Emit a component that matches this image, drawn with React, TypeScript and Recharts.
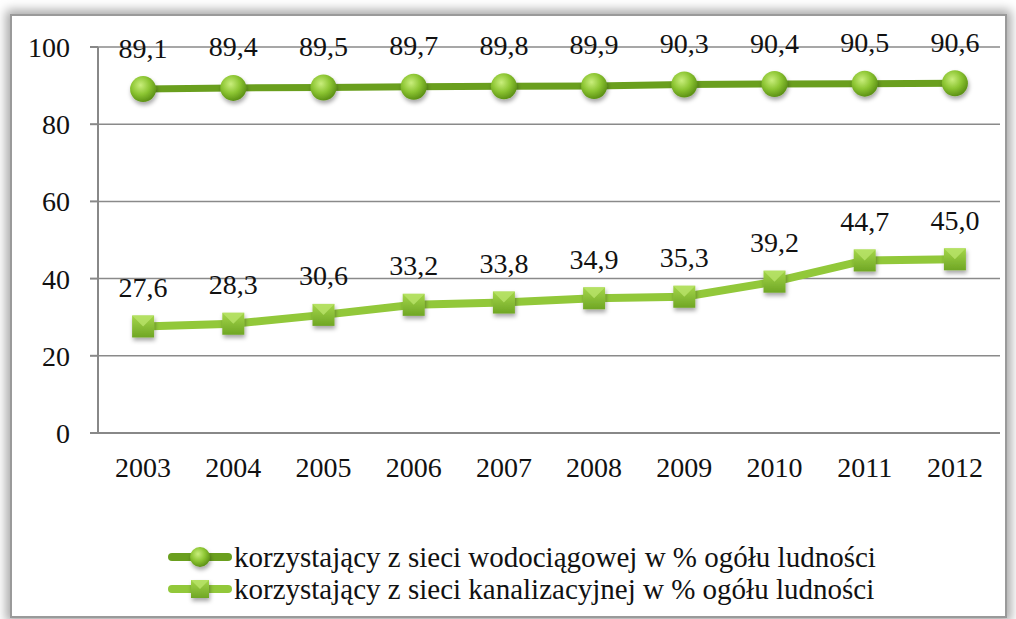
import React from "react";
import {
  LineChart,
  Line,
  XAxis,
  YAxis,
  CartesianGrid,
  Legend,
} from "recharts";

const years = ["2003", "2004", "2005", "2006", "2007", "2008", "2009", "2010", "2011", "2012"];
const water = [89.1, 89.4, 89.5, 89.7, 89.8, 89.9, 90.3, 90.4, 90.5, 90.6];
const sewer = [27.6, 28.3, 30.6, 33.2, 33.8, 34.9, 35.3, 39.2, 44.7, 45.0];
const yTicks = [0, 20, 40, 60, 80, 100];
const seriesNames = [
  "korzystający z sieci wodociągowej w % ogółu ludności",
  "korzystający z sieci kanalizacyjnej w % ogółu ludności",
];

const data = years.map((y, i) => ({ idx: i, year: y, water: water[i], sewer: sewer[i] }));
const centerTicks = years.map((_, i) => i);
const edgeTicks = [...years.map((_, i) => i - 0.5), years.length - 0.5];

const FONT = "'Liberation Serif', 'DejaVu Serif', serif";
const DARK = "#6a9f1e";
const LIGHT = "#92c83a";
const tickStyle = { fontFamily: FONT, fontSize: 28, fill: "#111" };

const fmt = (v: number) => v.toFixed(1).replace(".", ",");

function Sphere({ cx, cy, r = 13 }: { cx: number; cy: number; r?: number }) {
  return <circle cx={cx} cy={cy} r={r} fill="url(#sphere)" filter="url(#shadow)" />;
}

function Box({ cx, cy, s = 22 }: { cx: number; cy: number; s?: number }) {
  const h = s / 2;
  return (
    <g filter="url(#shadow)">
      <rect x={cx - h} y={cy - h} width={s} height={s} fill="url(#box)" />
      <polygon
        points={`${cx - h},${cy - h} ${cx},${cy} ${cx + h},${cy - h}`}
        fill="#b9e36a"
        opacity={0.8}
      />
    </g>
  );
}

const makeLabel = (lift: number) => (p: any) => {
  if (p.x == null || p.y == null) return null;
  return (
    <text
      key={`l-${p.index}`}
      x={p.x}
      y={p.y - lift}
      textAnchor="middle"
      dominantBaseline="central"
      style={{ fontFamily: FONT, fontSize: 28, fill: "#111" }}
    >
      {fmt(Number(p.value))}
    </text>
  );
};

function LegendBox() {
  const rows = [
    { name: seriesNames[0], color: DARK, kind: "sphere" },
    { name: seriesNames[1], color: LIGHT, kind: "box" },
  ];
  return (
    <div style={{ paddingLeft: 168 }}>
      {rows.map((r) => (
        <div key={r.name} style={{ display: "flex", alignItems: "center", height: 32 }}>
          <svg width={64} height={30} style={{ overflow: "visible" }}>
            <line x1={4} y1={15} x2={60} y2={15} stroke={r.color} strokeWidth={8} strokeLinecap="round" />
            {r.kind === "sphere" ? <Sphere cx={32} cy={15} r={10} /> : <Box cx={32} cy={15} s={18} />}
          </svg>
          <span style={{ fontFamily: FONT, fontSize: 29, color: "#111", marginLeft: 2, whiteSpace: "nowrap" }}>
            {r.name}
          </span>
        </div>
      ))}
    </div>
  );
}

export default function App() {
  return (
    <div style={{ position: "relative", width: 1016, height: 619, background: "#fff", overflow: "hidden" }}>
      <style>{`body{margin:0}`}</style>
      <div
        style={{
          position: "absolute",
          left: 10,
          top: 14,
          width: 993,
          height: 600,
          border: "2px solid #9a9a9a",
          boxShadow: "0 0 10px 4px rgba(0,0,0,0.35)",
          background: "#fff",
        }}
      />
      <div style={{ position: "absolute", left: 0, top: 0 }}>
        <LineChart width={1016} height={619} data={data} margin={{ top: 47, right: 16, bottom: 72, left: 0 }}>
          <defs>
            <radialGradient id="sphere" cx="40%" cy="35%" r="65%">
              <stop offset="0%" stopColor="#c9ee7c" />
              <stop offset="55%" stopColor="#8cc532" />
              <stop offset="100%" stopColor="#5d9216" />
            </radialGradient>
            <linearGradient id="box" x1="0" y1="0" x2="0" y2="1">
              <stop offset="0%" stopColor="#a4d64a" />
              <stop offset="100%" stopColor="#6fa624" />
            </linearGradient>
            <filter id="shadow" x="-50%" y="-50%" width="200%" height="200%">
              <feDropShadow dx="1" dy="3" stdDeviation="2" floodColor="#000" floodOpacity="0.35" />
            </filter>
          </defs>
          <CartesianGrid vertical={false} stroke="#8a8a8a" strokeWidth={1.5} />
          <XAxis
            dataKey="idx"
            type="number"
            domain={[-0.5, years.length - 0.5]}
            ticks={centerTicks}
            tickFormatter={(v) => years[v] ?? ""}
            tickLine={false}
            axisLine={{ stroke: "#888", strokeWidth: 2 }}
            tick={tickStyle}
            tickMargin={18}
            height={50}
            interval={0}
          />
          <XAxis
            xAxisId="edges"
            dataKey="idx"
            type="number"
            domain={[-0.5, years.length - 0.5]}
            ticks={edgeTicks}
            tick={false}
            axisLine={false}
            tickLine={{ stroke: "#888", strokeWidth: 2 }}
            tickSize={7}
            height={0}
            interval={0}
          />
          <YAxis
            domain={[0, 100]}
            ticks={yTicks}
            width={98}
            axisLine={{ stroke: "#888", strokeWidth: 2 }}
            tickLine={{ stroke: "#888", strokeWidth: 2 }}
            tickSize={8}
            tickMargin={20}
            tick={tickStyle}
          />
          <Legend
            verticalAlign="bottom"
            content={() => <LegendBox />}
            wrapperStyle={{ top: 541, bottom: "auto", left: 0, width: 1016, height: 64 }}
          />
          <Line
            dataKey="water"
            name={seriesNames[0]}
            stroke={DARK}
            strokeWidth={7}
            dot={(p: any) => <Sphere key={p.index} cx={p.cx} cy={p.cy} />}
            activeDot={false}
            label={makeLabel(41)}
            isAnimationActive={false}
          />
          <Line
            dataKey="sewer"
            name={seriesNames[1]}
            stroke={LIGHT}
            strokeWidth={8}
            dot={(p: any) => <Box key={p.index} cx={p.cx} cy={p.cy} />}
            activeDot={false}
            label={makeLabel(39)}
            isAnimationActive={false}
          />
        </LineChart>
      </div>
    </div>
  );
}
